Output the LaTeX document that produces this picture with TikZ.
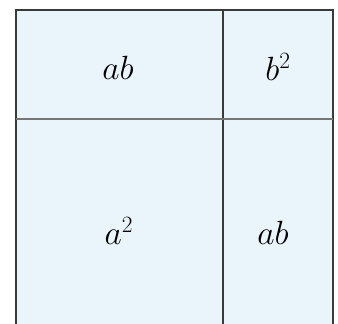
\documentclass[tikz,border=0pt]{standalone}
\usepackage{graphicx}
\usepackage{xcolor}
\definecolor{cellfill}{HTML}{EAF4FB}
\definecolor{edge}{HTML}{3A3A3A}
\newcommand{\biglbl}[1]{\scalebox{1.35}{\Huge #1}}
\begin{document}
\begin{tikzpicture}[x=1pt,y=-1pt,
  lbl/.style={inner sep=0pt},
  cell/.style={draw=edge, line width=1.8pt, fill=cellfill}]
\useasboundingbox (0,0) rectangle (338,324);
\fill[white] (0,0) rectangle (338,324);
\draw[cell] (16,10) rectangle (333,330);
\draw[edge, line width=1.8pt] (223,10) -- (223,330);
\draw[edge!70, line width=1.6pt] (16,119) -- (333,119);
\node[lbl] (tl) at (118,68) {\biglbl{$ab$}};
\node[lbl] (tr) at (278,67) {\biglbl{$b^{\scriptscriptstyle 2}$}};
\node[lbl] (bl) at (119,231) {\biglbl{$a^{\scriptscriptstyle 2}$}};
\node[lbl] (br) at (273,233) {\biglbl{$ab$}};
\end{tikzpicture}
\end{document}
